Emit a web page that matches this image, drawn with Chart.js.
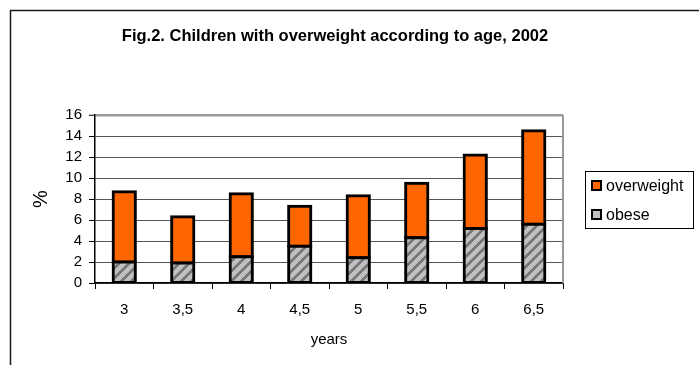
<!DOCTYPE html>
<html>
<head>
<meta charset="utf-8">
<script src="https://cdn.jsdelivr.net/npm/chart.js@4/dist/chart.umd.min.js"></script>
<style>
  html, body { margin: 0; padding: 0; background: #fff; }
  canvas { display: block; }
</style>
</head>
<body>
<canvas id="c" width="699" height="365"></canvas>
<script>
// Age groups (years) on the category axis
const ages = ['3', '3,5', '4', '4,5', '5', '5,5', '6', '6,5'];
// Share of obese children, %
const obese = [2.0, 1.9, 2.5, 3.5, 2.4, 4.3, 5.2, 5.6];
// Overweight (non-obese) part stacked above, %
const overweight = [6.7, 4.4, 6.0, 3.8, 5.9, 5.2, 7.0, 8.9];
// Value axis ticks
const yTicks = [0, 2, 4, 6, 8, 10, 12, 14, 16];

const FONT = "'Liberation Sans', Arial, sans-serif";
const ORANGE = '#FF6600';
const LIGHT_GREY = '#C0C0C0';

// Hatched fill for the obese segment: grey with wide upward diagonal stripes
function makeHatch() {
  const n = 10;
  const p = document.createElement('canvas');
  p.width = n; p.height = n;
  const g = p.getContext('2d');
  g.fillStyle = LIGHT_GREY;
  g.fillRect(0, 0, n, n);
  g.fillStyle = '#7a7a7a';
  for (let y = 0; y < n; y++) {
    for (let x = 0; x < n; x++) {
      if ((x + y) % n < 4) g.fillRect(x, y, 1, 1);
    }
  }
  return g.createPattern(p, 'repeat');
}

const ctx = document.getElementById('c').getContext('2d');
const hatch = makeHatch();

// Outer frame, plot-area edge and the boxed legend
const decorations = {
  id: 'decorations',
  beforeDraw(chart) {
    const c = chart.ctx;
    c.save();
    c.fillStyle = '#fff';
    c.fillRect(0, 0, chart.width, chart.height);
    c.strokeStyle = '#1a1a1a';
    c.lineWidth = 1.5;
    c.strokeRect(10.5, 10.5, 1000, 1000);
    c.restore();
  },
  beforeDatasetsDraw(chart) {
    const a = chart.chartArea;
    const c = chart.ctx;
    c.save();
    c.strokeStyle = '#9a9a9a';
    c.lineWidth = 2;
    c.beginPath();
    c.moveTo(a.right, a.top);
    c.lineTo(a.right, a.bottom);
    c.stroke();
    c.restore();
  },
  afterDraw(chart) {
    const c = chart.ctx;
    const ds = chart.data.datasets;
    const items = [ds[1], ds[0]];
    c.save();
    c.strokeStyle = '#000';
    c.lineWidth = 1;
    c.strokeRect(585.5, 171.5, 108, 57);
    c.font = '16px ' + FONT;
    c.textBaseline = 'middle';
    c.textAlign = 'left';
    items.forEach((d, i) => {
      const cy = 186 + i * 29;
      c.fillStyle = d.legendColor;
      c.fillRect(592, cy - 5, 9, 9);
      c.strokeStyle = '#000';
      c.lineWidth = 2;
      c.strokeRect(592, cy - 5, 9, 9);
      c.fillStyle = '#000';
      c.fillText(d.label, 606, cy + 1);
    });
    c.restore();
  }
};

new Chart(ctx, {
  type: 'bar',
  data: {
    labels: ages,
    datasets: [
      {
        label: 'obese',
        data: obese,
        backgroundColor: hatch,
        legendColor: LIGHT_GREY,
        borderColor: '#000',
        borderWidth: 3,
        borderSkipped: false,
        inflateAmount: 1.5,
        barPercentage: 0.38,
        categoryPercentage: 1
      },
      {
        label: 'overweight',
        data: overweight,
        backgroundColor: ORANGE,
        legendColor: ORANGE,
        borderColor: '#000',
        borderWidth: 3,
        borderSkipped: false,
        inflateAmount: 1.5,
        barPercentage: 0.38,
        categoryPercentage: 1
      }
    ]
  },
  options: {
    responsive: false,
    animation: false,
    events: [],
    layout: { padding: { left: 10, right: 39, top: 0, bottom: 0 } },
    plugins: {
      legend: { display: false },
      tooltip: { enabled: false },
      title: {
        display: true,
        text: 'Fig.2. Children with overweight according to age, 2002',
        color: '#000',
        font: { family: FONT, size: 16.5, weight: 'bold', lineHeight: 1.2 },
        padding: { top: 27, bottom: 68.2 }
      }
    },
    scales: {
      x: {
        stacked: true,
        offset: true,
        grid: {
          drawOnChartArea: false,
          drawTicks: true,
          tickLength: 6,
          tickColor: '#000',
          tickWidth: 1
        },
        border: { display: true, color: '#000', width: 1.5 },
        ticks: {
          color: '#000',
          font: { family: FONT, size: 15 },
          padding: 12,
          maxRotation: 0
        },
        title: {
          display: true,
          text: 'years',
          color: '#000',
          font: { family: FONT, size: 15, lineHeight: 1.2 },
          padding: { top: 0, bottom: 16 }
        },
        afterFit(scale) { scale.height = 82; }
      },
      y: {
        stacked: true,
        min: 0,
        max: 16,
        afterBuildTicks(scale) { scale.ticks = yTicks.map(v => ({ value: v })); },
        grid: {
          color: (c) => c.tick && c.tick.value === 16 ? '#9a9a9a' : '#555',
          lineWidth: (c) => c.tick && c.tick.value === 16 ? 2.5 : 1,
          tickLength: 6,
          tickColor: '#000',
          tickWidth: 1
        },
        border: { display: true, color: '#000', width: 1.5 },
        ticks: {
          color: '#000',
          font: { family: FONT, size: 15 },
          padding: 7
        },
        title: {
          display: true,
          text: '%',
          color: '#000',
          font: { family: FONT, size: 20, lineHeight: 1.2 },
          padding: { top: 19, bottom: 0 }
        },
        afterFit(scale) { scale.width = 85; }
      },
      // Empty right-hand band that keeps room for the legend box
      legendBand: {
        type: 'linear',
        position: 'right',
        display: true,
        min: 0,
        max: 1,
        grid: { display: false, drawTicks: false },
        border: { display: false },
        ticks: { display: false },
        afterFit(scale) { scale.width = 97; }
      }
    }
  },
  plugins: [decorations]
});
</script>
</body>
</html>
